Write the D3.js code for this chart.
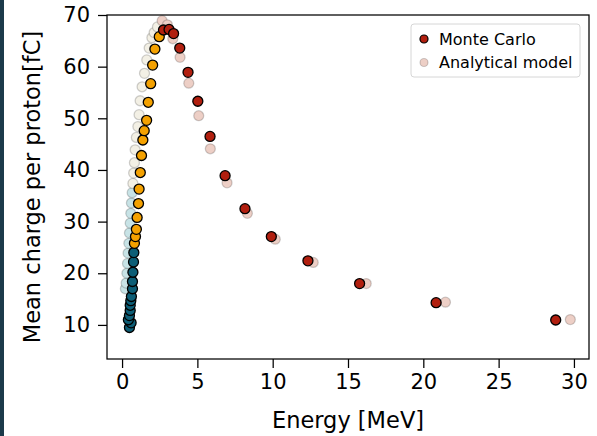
<!DOCTYPE html>
<html><head><meta charset="utf-8">
<script src="https://cdn.jsdelivr.net/npm/d3@7"></script>
<style>
html,body{margin:0;padding:0;background:#fff;}
text{font-family:"DejaVu Sans",sans-serif;fill:#000;}
</style></head>
<body><svg id="c" width="597" height="436"></svg>
<script>
// ---- data ----
const mcEnergy = [0.49, 0.60, 0.42, 0.49, 0.54, 0.54, 0.58, 0.62, 0.69, 0.69, 0.72, 0.76, 0.78,
  0.82, 0.89, 0.95, 1.00, 1.09, 1.13, 1.21, 1.29, 1.38, 1.47, 1.63, 1.74, 1.90, 2.03, 2.18, 2.47,
  2.75, 3.12, 3.42, 3.83, 4.38, 5.03, 5.84, 6.84, 8.16, 9.91, 12.34, 15.77, 20.85, 28.79];
const mcCharge = [9.5, 10.4, 11.0, 11.8, 12.8, 13.8, 14.7, 15.5, 17.0, 18.4, 20.2, 22.2, 24.0,
  25.8, 27.1, 28.5, 30.8, 33.5, 36.3, 39.5, 42.8, 45.8, 47.6, 49.6, 53.1, 56.7, 60.3, 63.4, 65.8,
  67.1, 67.2, 66.4, 63.6, 58.9, 53.3, 46.5, 38.9, 32.5, 27.1, 22.4, 18.0, 14.3, 10.95];
const anEnergy = [0.22, 0.27, 0.32, 0.36, 0.40, 0.45, 0.49, 0.54, 0.58, 0.62, 0.67, 0.72, 0.77,
  0.82, 0.87, 0.95, 1.05, 1.13, 1.20, 1.33, 1.49, 1.64, 1.80, 1.98, 2.13, 2.35, 2.66, 3.01, 3.37,
  3.85, 4.43, 5.09, 5.86, 6.97, 8.32, 10.17, 12.69, 16.21, 21.47, 29.76];
const anCharge = [17.0, 18.1, 20.0, 21.9, 23.9, 25.8, 27.8, 29.7, 31.6, 33.6, 35.6, 37.4, 39.4,
  41.4, 43.9, 46.3, 48.4, 50.7, 53.4, 56.1, 58.7, 61.3, 63.6, 65.6, 66.6, 67.7, 68.9, 68.1, 65.4,
  61.8, 56.8, 50.5, 44.1, 37.5, 31.6, 26.6, 22.1, 18.0, 14.4, 11.03];
const mcBreaks = [0.8, 2.6];
const anBreaks = [0.7, 2.5];
const mcColors = ["#0d5e76", "#f4a100", "#b11f0f"];
const anColors = ["#c8e3e6", "#f3f0e5", "#edcfc6"];
const xTicks = [0, 5, 10, 15, 20, 25, 30];
const yTicks = [10, 20, 30, 40, 50, 60, 70];
const legendLabels = ["Monte Carlo", "Analytical model"];
const xLabel = "Energy [MeV]";
const yLabel = "Mean charge per proton[fC]";

// ---- layout ----
const svg = d3.select("#c");
svg.append("rect").attr("width", 597).attr("height", 436).attr("fill", "#fff");
svg.append("rect").attr("x", 0).attr("y", 0).attr("width", 4).attr("height", 436).attr("fill", "#1c3a4a");

const L = 107, R = 589, T = 15, B = 359;
const x = d3.scaleLinear().domain([-1, 31]).range([L, R]);
const y = d3.scaleLinear().domain([3.4, 70]).range([B, T]);
const mcCol = d3.scaleThreshold().domain(mcBreaks).range(mcColors);
const anCol = d3.scaleThreshold().domain(anBreaks).range(anColors);

// analytical (behind)
const an = anEnergy.map((e, i) => ({e, q: anCharge[i]}));
svg.append("g").selectAll("circle").data(an).join("circle")
  .attr("cx", d => x(d.e)).attr("cy", d => y(d.q)).attr("r", 5)
  .attr("fill", d => anCol(d.e)).attr("stroke", "rgba(0,0,0,0.18)").attr("stroke-width", 1.3);

const mc = mcEnergy.map((e, i) => ({e, q: mcCharge[i]}));
svg.append("g").selectAll("circle").data(mc).join("circle")
  .attr("cx", d => x(d.e)).attr("cy", d => y(d.q)).attr("r", 5)
  .attr("fill", d => mcCol(d.e)).attr("stroke", "#000").attr("stroke-width", 1.3);

// frame
svg.append("rect").attr("x", L).attr("y", T).attr("width", R - L).attr("height", B - T)
  .attr("fill", "none").attr("stroke", "#000").attr("stroke-width", 1.25);

// axes
const xAxis = svg.append("g").attr("transform", `translate(0,${B})`)
  .call(d3.axisBottom(x).tickValues(xTicks).tickSize(9).tickPadding(6).tickFormat(d3.format("d")));
const yAxis = svg.append("g").attr("transform", `translate(${L},0)`)
  .call(d3.axisLeft(y).tickValues(yTicks).tickSize(9).tickPadding(8).tickFormat(d3.format("d")));
[xAxis, yAxis].forEach(a => {
  a.select(".domain").remove();
  a.selectAll(".tick line").attr("stroke", "#000").attr("stroke-width", 1.25);
  a.selectAll(".tick text").attr("font-size", 21).attr("font-family", "DejaVu Sans").attr("fill", "#000");
});

svg.append("text").attr("x", (L + R) / 2).attr("y", 428).attr("text-anchor", "middle")
  .attr("font-size", 22.5).text(xLabel);
svg.append("text").attr("transform", `translate(40,${(T + B) / 2}) rotate(-90)`)
  .attr("text-anchor", "middle").attr("font-size", 22.5).text(yLabel);

// legend
const lg = svg.append("g");
lg.append("rect").attr("x", 411).attr("y", 24).attr("width", 169).attr("height", 53).attr("rx", 3)
  .attr("fill", "#fff").attr("stroke", "#d6d6d6").attr("stroke-width", 1);
const legendStyles = [
  {fill: mcColors[2], stroke: "#000"},
  {fill: anColors[2], stroke: "rgba(0,0,0,0.18)"}
];
legendLabels.forEach((t, i) => {
  const cy = 39 + i * 23.5;
  lg.append("circle").attr("cx", 424).attr("cy", cy).attr("r", 4)
    .attr("fill", legendStyles[i].fill).attr("stroke", legendStyles[i].stroke).attr("stroke-width", 1.2);
  lg.append("text").attr("x", 439).attr("y", cy + 5.8).attr("font-size", 16).text(t);
});
</script></body></html>
